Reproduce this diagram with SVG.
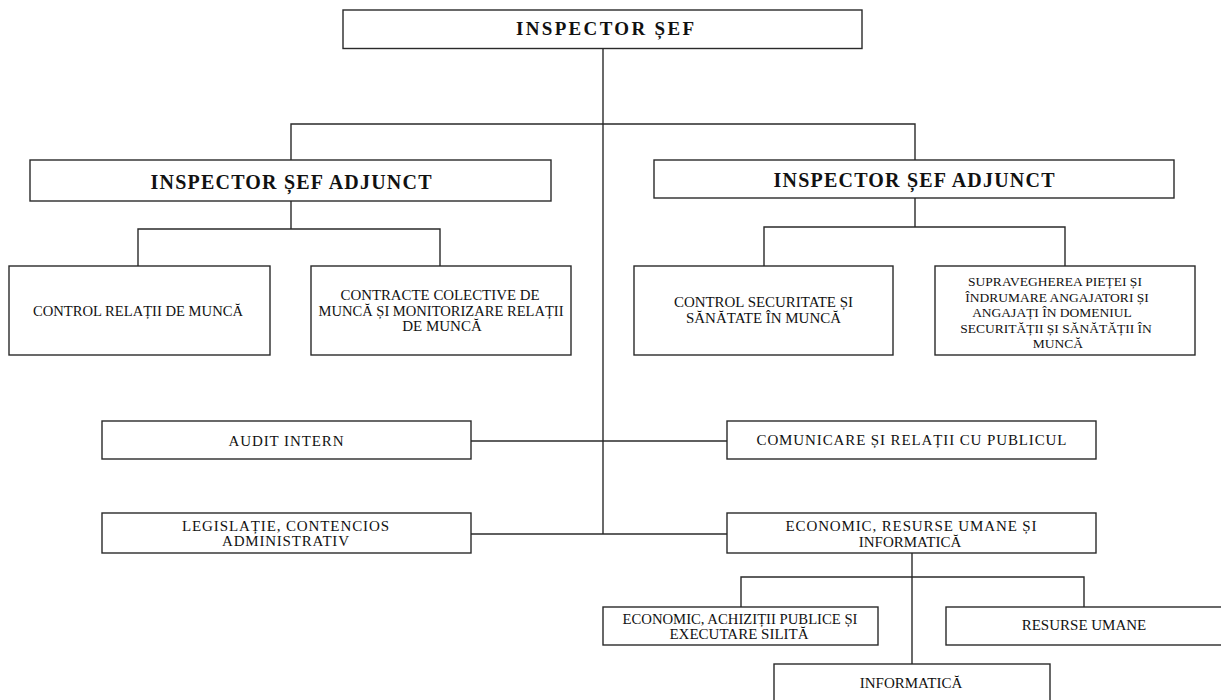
<svg xmlns="http://www.w3.org/2000/svg" width="1221" height="700" viewBox="0 0 1221 700">
<style>
.box{fill:#fff;stroke:#2a2a2a;stroke-width:1.4}
.ln{fill:none;stroke:#2a2a2a;stroke-width:1.4}
text{font-family:"Liberation Serif","Times New Roman",serif;fill:#111;text-anchor:middle}
.t{font-size:15px}
.s{font-size:13.5px}
.h{font-size:20px;font-weight:bold}
.h0{font-size:19px;font-weight:bold}
</style>
<rect width="1221" height="700" fill="#fff"/>
<g id="connectors">
<path class="ln" d="M603 48.5V534"/>
<path class="ln" d="M291 160V124H915V160"/>
<path class="ln" d="M291 201V229M138 266V229H440V266"/>
<path class="ln" d="M915 198V227M764 266V227H1065V266"/>
<path class="ln" d="M471 441H727"/>
<path class="ln" d="M471 534H727"/>
<path class="ln" d="M912 553V664"/>
<path class="ln" d="M741 607V577H1084V607"/>
</g>
<g id="n-inspector-sef">
<rect class="box" x="343" y="10" width="519" height="38.5"/>
<text class="h0" x="605" y="35" textLength="178" lengthAdjust="spacing">INSPECTOR ȘEF</text>
</g>
<g id="n-adjunct-left">
<rect class="box" x="30" y="160" width="521" height="41"/>
<text class="h" x="291" y="189" textLength="281" lengthAdjust="spacing">INSPECTOR ȘEF ADJUNCT</text>
</g>
<g id="n-adjunct-right">
<rect class="box" x="654" y="160" width="520" height="38"/>
<text class="h" x="914" y="187" textLength="281" lengthAdjust="spacing">INSPECTOR ȘEF ADJUNCT</text>
</g>
<g id="n-control-relatii">
<rect class="box" x="9" y="266" width="261" height="89"/>
<text class="t" x="138" y="316" textLength="210" lengthAdjust="spacingAndGlyphs">CONTROL RELAȚII DE MUNCĂ</text>
</g>
<g id="n-contracte">
<rect class="box" x="311" y="266" width="260" height="89"/>
<text class="t" x="440" y="300" textLength="199" lengthAdjust="spacingAndGlyphs">CONTRACTE COLECTIVE DE</text>
<text class="t" x="441" y="316" textLength="245" lengthAdjust="spacingAndGlyphs">MUNCĂ ȘI MONITORIZARE RELAȚII</text>
<text class="t" x="442" y="331">DE MUNCĂ</text>
</g>
<g id="n-control-securitate">
<rect class="box" x="634" y="266" width="259" height="89"/>
<text class="t" x="763.5" y="307" textLength="179" lengthAdjust="spacingAndGlyphs">CONTROL SECURITATE ȘI</text>
<text class="t" x="763.5" y="323" textLength="155" lengthAdjust="spacingAndGlyphs">SĂNĂTATE ÎN MUNCĂ</text>
</g>
<g id="n-supraveghere">
<rect class="box" x="935" y="266" width="260" height="89"/>
<text class="s" x="1055" y="286">SUPRAVEGHEREA PIEȚEI ȘI</text>
<text class="s" x="1057" y="302">ÎNDRUMARE ANGAJATORI ȘI</text>
<text class="s" x="1052" y="317">ANGAJAȚI ÎN  DOMENIUL</text>
<text class="s" x="1056" y="333">SECURITĂȚII ȘI SĂNĂTĂȚII ÎN</text>
<text class="s" x="1058" y="348">MUNCĂ</text>
</g>
<g id="n-audit">
<rect class="box" x="102" y="421" width="369" height="38"/>
<text class="t" x="286" y="446" textLength="115" lengthAdjust="spacing">AUDIT INTERN</text>
</g>
<g id="n-comunicare">
<rect class="box" x="727" y="421" width="369" height="38"/>
<text class="t" x="911.5" y="445" textLength="310" lengthAdjust="spacing">COMUNICARE ȘI RELAȚII CU PUBLICUL</text>
</g>
<g id="n-legislatie">
<rect class="box" x="102" y="513" width="369" height="40"/>
<text class="t" x="285.5" y="531" textLength="207" lengthAdjust="spacing">LEGISLAȚIE, CONTENCIOS</text>
<text class="t" x="285.5" y="546" textLength="127" lengthAdjust="spacing">ADMINISTRATIV</text>
</g>
<g id="n-economic-ru-info">
<rect class="box" x="727" y="513" width="369" height="40"/>
<text class="t" x="911" y="531" textLength="251" lengthAdjust="spacing">ECONOMIC, RESURSE UMANE ȘI</text>
<text class="t" x="910" y="547">INFORMATICĂ</text>
</g>
<g id="n-economic-achizitii">
<rect class="box" x="603" y="607" width="275" height="38"/>
<text class="t" x="740" y="624" textLength="235" lengthAdjust="spacingAndGlyphs">ECONOMIC, ACHIZIȚII PUBLICE ȘI</text>
<text class="t" x="739" y="639">EXECUTARE SILITĂ</text>
</g>
<g id="n-resurse-umane">
<rect class="box" x="946" y="607" width="276" height="38"/>
<text class="t" x="1084" y="630">RESURSE UMANE</text>
</g>
<g id="n-informatica">
<rect class="box" x="774" y="664" width="276" height="40"/>
<text class="t" x="911" y="688">INFORMATICĂ</text>
</g>
</svg>
